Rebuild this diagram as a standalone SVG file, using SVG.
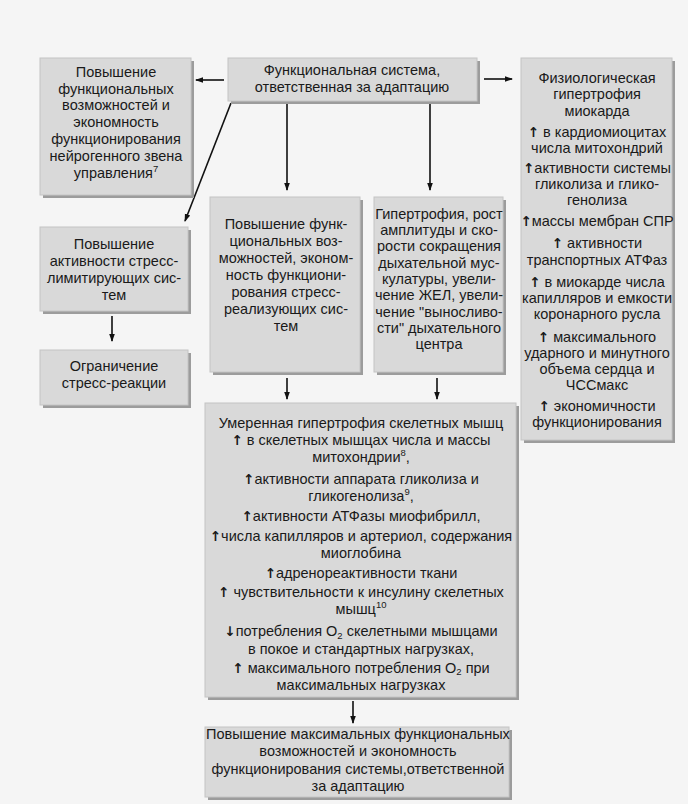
<svg xmlns="http://www.w3.org/2000/svg" width="688" height="804" viewBox="0 0 688 804">
<style>
.bg{fill:#f5f5f5}
.sh{fill:#9c9c9c}
.bx{fill:#d9d9d9;stroke:#c4c4c4;stroke-width:1}
.t{font-family:"Liberation Sans",Arial,sans-serif;font-size:14.5px;fill:#1a1a1a;text-anchor:middle}
.sup{font-size:9.5px}
.ar{font-family:"DejaVu Sans",sans-serif;font-weight:bold;font-size:13.5px}
.ln{stroke:#111;stroke-width:1.6;fill:none}
</style>
<defs>
<marker id="ah" markerWidth="8" markerHeight="8" refX="7" refY="4" orient="auto" markerUnits="userSpaceOnUse">
<path d="M0,1.2 L8,4 L0,6.8 Z" fill="#111"/>
</marker>
</defs>
<rect class="bg" x="0" y="0" width="688" height="804"/>

<g id="connectors">
<line class="ln" x1="224" y1="80" x2="196" y2="80" marker-end="url(#ah)"/>
<line class="ln" x1="484" y1="79" x2="512" y2="79" marker-end="url(#ah)"/>
<line class="ln" x1="231" y1="103" x2="185" y2="221" marker-end="url(#ah)"/>
<line class="ln" x1="287" y1="104" x2="287" y2="190" marker-end="url(#ah)"/>
<line class="ln" x1="430" y1="104" x2="430" y2="190" marker-end="url(#ah)"/>
<line class="ln" x1="112" y1="316" x2="112" y2="341" marker-end="url(#ah)"/>
<line class="ln" x1="287" y1="378" x2="287" y2="399" marker-end="url(#ah)"/>
<line class="ln" x1="437" y1="378" x2="437" y2="399" marker-end="url(#ah)"/>
<line class="ln" x1="353" y1="701" x2="353" y2="723" marker-end="url(#ah)"/>
</g>

<g id="n-system">
<rect class="sh" x="231" y="61" width="249" height="43"/>
<rect class="bx" x="228" y="58" width="249" height="43"/>
<text class="t" x="352" y="75">Функциональная система,</text>
<text class="t" x="352" y="92">ответственная за адаптацию</text>
</g>

<g id="n-neuro">
<rect class="sh" x="43" y="61" width="151" height="137"/>
<rect class="bx" x="40" y="58" width="151" height="137"/>
<text class="t" x="116" y="77">Повышение</text>
<text class="t" x="116" y="94">функциональных</text>
<text class="t" x="116" y="110">возможностей и</text>
<text class="t" x="116" y="127">экономность</text>
<text class="t" x="116" y="144">функционирования</text>
<text class="t" x="116" y="161">нейрогенного звена</text>
<text class="t" x="116" y="178">управления<tspan class="sup" dy="-6">7</tspan></text>
</g>

<g id="n-myocard">
<rect class="sh" x="524" y="61" width="151" height="382"/>
<rect class="bx" x="521" y="58" width="151" height="382"/>
<text class="t" x="597" y="83">Физиологическая</text>
<text class="t" x="597" y="99">гипертрофия</text>
<text class="t" x="597" y="116">миокарда</text>
<text class="t" x="597" y="137"><tspan class="ar">↑</tspan> в кардиомиоцитах</text>
<text class="t" x="597" y="153">числа митохондрий</text>
<text class="t" x="597" y="173"><tspan class="ar">↑</tspan>активности системы</text>
<text class="t" x="597" y="189">гликолиза и глико-</text>
<text class="t" x="597" y="205">генолиза</text>
<text class="t" x="597" y="226"><tspan class="ar">↑</tspan>массы мембран СПР</text>
<text class="t" x="597" y="248"><tspan class="ar">↑</tspan> активности</text>
<text class="t" x="597" y="265">транспортных АТФаз</text>
<text class="t" x="597" y="287"><tspan class="ar">↑</tspan> в миокарде числа</text>
<text class="t" x="597" y="303">капилляров и емкости</text>
<text class="t" x="597" y="319">коронарного русла</text>
<text class="t" x="597" y="342"><tspan class="ar">↑</tspan> максимального</text>
<text class="t" x="597" y="358">ударного и минутного</text>
<text class="t" x="597" y="374">объема сердца и</text>
<text class="t" x="597" y="390">ЧССмакс</text>
<text class="t" x="597" y="411"><tspan class="ar">↑</tspan> экономичности</text>
<text class="t" x="597" y="427">функционирования</text>
</g>

<g id="n-stresslimit">
<rect class="sh" x="43" y="230" width="148" height="84"/>
<rect class="bx" x="40" y="227" width="148" height="84"/>
<text class="t" x="114" y="249">Повышение</text>
<text class="t" x="114" y="266">активности стресс-</text>
<text class="t" x="114" y="283">лимитирующих сис-</text>
<text class="t" x="114" y="300">тем</text>
</g>

<g id="n-limit">
<rect class="sh" x="43" y="353" width="148" height="55"/>
<rect class="bx" x="40" y="350" width="148" height="55"/>
<text class="t" x="114" y="371">Ограничение</text>
<text class="t" x="114" y="388">стресс-реакции</text>
</g>

<g id="n-stressreal">
<rect class="sh" x="213" y="200" width="150" height="175"/>
<rect class="bx" x="210" y="197" width="150" height="175"/>
<text class="t" x="286" y="229">Повышение функ-</text>
<text class="t" x="286" y="246">циональных воз-</text>
<text class="t" x="286" y="263">можностей, эконом-</text>
<text class="t" x="286" y="280">ность функциони-</text>
<text class="t" x="286" y="297">рования стресс-</text>
<text class="t" x="286" y="314">реализующих сис-</text>
<text class="t" x="286" y="331">тем</text>
</g>

<g id="n-resp">
<rect class="sh" x="377" y="200" width="129" height="175"/>
<rect class="bx" x="374" y="197" width="129" height="175"/>
<text class="t" x="439" y="219">Гипертрофия, рост</text>
<text class="t" x="439" y="235">амплитуды и ско-</text>
<text class="t" x="439" y="251">рости сокращения</text>
<text class="t" x="439" y="268">дыхательной мус-</text>
<text class="t" x="439" y="284">кулатуры, увели-</text>
<text class="t" x="439" y="300">чение ЖЕЛ, увели-</text>
<text class="t" x="439" y="317">чение "выносливо-</text>
<text class="t" x="439" y="333">сти" дыхательного</text>
<text class="t" x="439" y="349">центра</text>
</g>

<g id="n-muscle">
<rect class="sh" x="208" y="406" width="311" height="294"/>
<rect class="bx" x="205" y="403" width="311" height="294"/>
<text class="t" x="361" y="428">Умеренная гипертрофия скелетных мышц</text>
<text class="t" x="361" y="445"><tspan class="ar">↑</tspan> в скелетных мышцах числа и массы</text>
<text class="t" x="361" y="462">митохондрии<tspan class="sup" dy="-6">8</tspan><tspan dy="6">,</tspan></text>
<text class="t" x="361" y="484"><tspan class="ar">↑</tspan>активности аппарата гликолиза и</text>
<text class="t" x="361" y="501">гликогенолиза<tspan class="sup" dy="-6">9</tspan><tspan dy="6">,</tspan></text>
<text class="t" x="361" y="521"><tspan class="ar">↑</tspan>активности АТФазы миофибрилл,</text>
<text class="t" x="361" y="541"><tspan class="ar">↑</tspan>числа капилляров и артериол, содержания</text>
<text class="t" x="361" y="558">миоглобина</text>
<text class="t" x="361" y="578"><tspan class="ar">↑</tspan>адренореактивности ткани</text>
<text class="t" x="361" y="597"><tspan class="ar">↑</tspan> чувствительности к инсулину скелетных</text>
<text class="t" x="361" y="614">мышц<tspan class="sup" dy="-6">10</tspan></text>
<text class="t" x="361" y="636"><tspan class="ar">↓</tspan>потребления О<tspan class="sup" dy="3">2</tspan><tspan dy="-3"> скелетными мышцами</tspan></text>
<text class="t" x="361" y="654">в покое и стандартных нагрузках,</text>
<text class="t" x="361" y="673"><tspan class="ar">↑</tspan> максимального потребления О<tspan class="sup" dy="2">2</tspan><tspan dy="-2"> при</tspan></text>
<text class="t" x="361" y="690">максимальных нагрузках</text>
</g>

<g id="n-result">
<rect class="sh" x="208" y="730" width="304" height="70"/>
<rect class="bx" x="205" y="727" width="304" height="70"/>
<text class="t" x="358" y="739">Повышение максимальных функциональных</text>
<text class="t" x="358" y="756">возможностей и экономность</text>
<text class="t" x="358" y="774">функционирования системы,ответственной</text>
<text class="t" x="358" y="791">за адаптацию</text>
</g>
</svg>
